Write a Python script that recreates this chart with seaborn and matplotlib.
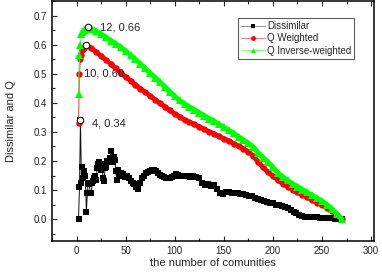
import matplotlib
matplotlib.use('Agg')
import matplotlib.pyplot as plt
import seaborn as sns
from matplotlib.ticker import MultipleLocator

# Dissimilar series (number of communities -> value)
dis_x = [2, 3, 4, 5, 6, 7, 8, 9, 10, 11, 12, 13, 14, 15, 16, 17, 18, 19, 20,
         21, 22, 23, 24, 25, 26, 27, 28, 29, 30, 31, 32, 33, 34, 35, 36, 37, 38,
         39, 40, 41, 42, 43, 44, 45, 47, 49, 51, 53, 55, 57, 59, 61, 63, 65, 67,
         69, 71, 73, 75, 77, 79, 81, 83, 85, 87, 89, 91, 93, 95, 97, 99, 101, 103,
         105, 107, 110, 113, 116, 119, 122, 125, 128, 131, 134, 137, 140, 143, 146,
         149, 152, 155, 158, 161, 164, 167, 170, 173, 176, 179, 182, 185, 188, 191,
         194, 197, 200, 203, 206, 209, 212, 215, 218, 221, 224, 227, 230, 233, 236,
         239, 242, 245, 248, 251, 254, 257, 260, 263, 266, 270]
dis_y = [0.0, 0.11, 0.34, 0.125, 0.18, 0.14, 0.165, 0.15, 0.025, 0.09, 0.125, 0.12,
         0.09, 0.09, 0.125, 0.13, 0.14, 0.15, 0.135, 0.175, 0.19, 0.195, 0.18, 0.17,
         0.19, 0.14, 0.13, 0.175, 0.18, 0.2, 0.195, 0.2, 0.21, 0.235, 0.2, 0.195,
         0.215, 0.205, 0.165, 0.135, 0.17, 0.155, 0.15, 0.16, 0.155, 0.145, 0.15,
         0.14, 0.13, 0.125, 0.12, 0.11, 0.105, 0.125, 0.14, 0.15, 0.16, 0.162, 0.165,
         0.168, 0.17, 0.165, 0.158, 0.152, 0.148, 0.145, 0.14, 0.143, 0.14, 0.145,
         0.15, 0.155, 0.152, 0.15, 0.148, 0.15, 0.148, 0.146, 0.148, 0.145, 0.14,
         0.125, 0.118, 0.12, 0.115, 0.118, 0.105, 0.09, 0.085, 0.095, 0.093, 0.09,
         0.09, 0.089, 0.088, 0.085, 0.082, 0.08, 0.078, 0.072, 0.068, 0.066, 0.062,
         0.058, 0.056, 0.054, 0.05, 0.048, 0.045, 0.043, 0.04, 0.032, 0.025, 0.02,
         0.016, 0.012, 0.009, 0.008, 0.007, 0.006, 0.006, 0.005, 0.005, 0.004, 0.004,
         0.003, 0.002, 0.001, 0.0]

# Q Weighted
qw_x = [2, 3, 4, 5, 6, 7, 8, 9, 10, 15, 20, 25, 30, 35, 40, 45, 50, 55, 60, 65,
        70, 75, 80, 85, 90, 95, 100, 105, 110, 115, 120, 125, 130, 135, 140, 145,
        150, 155, 160, 165, 170, 175, 180, 185, 190, 195, 200, 205, 210, 215, 220,
        225, 230, 235, 240, 245, 250, 255, 260, 265, 270]
qw_y = [0.33, 0.50, 0.55, 0.565, 0.58, 0.585, 0.59, 0.595, 0.600, 0.588, 0.575,
        0.561, 0.547, 0.533, 0.518, 0.503, 0.489, 0.476, 0.462, 0.449, 0.436, 0.424,
        0.411, 0.399, 0.386, 0.374, 0.362, 0.352, 0.342, 0.334, 0.326, 0.318, 0.309,
        0.301, 0.293, 0.285, 0.277, 0.269, 0.260, 0.251, 0.242, 0.232, 0.218, 0.196,
        0.178, 0.162, 0.148, 0.135, 0.122, 0.112, 0.102, 0.093, 0.084, 0.075, 0.066,
        0.057, 0.048, 0.039, 0.028, 0.015, 0.0]

# Q Inverse-weighted
qi_x = [2, 3, 4, 5, 6, 7, 8, 9, 10, 11, 12, 15, 20, 25, 30, 35, 40, 45, 50, 55,
        60, 65, 70, 75, 80, 85, 90, 95, 100, 105, 110, 115, 120, 125, 130, 135,
        140, 145, 150, 155, 160, 165, 170, 175, 180, 185, 190, 195, 200, 205, 210,
        215, 220, 225, 230, 235, 240, 245, 250, 255, 260, 265, 270]
qi_y = [0.43, 0.565, 0.60, 0.635, 0.645, 0.648, 0.65, 0.652, 0.655, 0.658, 0.660,
        0.655, 0.646, 0.636, 0.625, 0.614, 0.603, 0.591, 0.578, 0.564, 0.549, 0.534,
        0.518, 0.502, 0.487, 0.471, 0.455, 0.438, 0.422, 0.408, 0.396, 0.386, 0.376,
        0.366, 0.356, 0.346, 0.337, 0.326, 0.316, 0.306, 0.295, 0.283, 0.272, 0.261,
        0.248, 0.228, 0.212, 0.196, 0.178, 0.160, 0.145, 0.133, 0.122, 0.112, 0.102,
        0.092, 0.082, 0.072, 0.062, 0.050, 0.036, 0.019, 0.0]

# highlighted points
peak_x = [4, 10, 12]
peak_y = [0.34, 0.60, 0.66]
peak_labels = ["4, 0.34", "10, 0.60", "12, 0.66"]
peak_offsets = [(8.5, -2), (-2, -20.5), (8.5, 0)]

sns.set_style("ticks")
plt.rcParams['font.family'] = ['Liberation Sans', 'DejaVu Sans']

fig = plt.figure(figsize=(3.82, 2.72), dpi=100)
ax = fig.add_axes([52 / 382, 1 - 241 / 272, 322 / 382, 240 / 272])

# dense tail of the Q curves drawn as a band under the markers
iw = qw_x.index(10)
ii = qi_x.index(12)
ax.plot(qw_x[iw:], qw_y[iw:], color="#ff0000", linewidth=3.4,
        solid_capstyle="round", zorder=1.5)
ax.plot(qi_x[ii:], qi_y[ii:], color="#00ff00", linewidth=3.6,
        solid_capstyle="round", zorder=2.5)

sns.lineplot(x=dis_x, y=dis_y, ax=ax, color="#111111", linewidth=0.7,
             marker="s", markersize=4.0, markeredgewidth=0, markerfacecolor="#000000",
             label="Dissimilar", estimator=None, sort=False, zorder=1)
sns.lineplot(x=qw_x, y=qw_y, ax=ax, color="#ff3030", linewidth=0.7,
             marker="o", markersize=4.6, markeredgewidth=0, markerfacecolor="#ff0000",
             label="Q Weighted", estimator=None, sort=False, zorder=2)
sns.lineplot(x=qi_x, y=qi_y, ax=ax, color="#30ff30", linewidth=0.7,
             marker="^", markersize=5.4, markeredgewidth=0, markerfacecolor="#00ff00",
             label="Q Inverse-weighted", estimator=None, sort=False, zorder=3)

ax.scatter(peak_x, peak_y, s=22, facecolor="white", edgecolor="black",
           linewidth=0.7, zorder=5)
for px, py, lab, off in zip(peak_x, peak_y, peak_labels, peak_offsets):
    ax.annotate(lab, (px, py), xytext=off, textcoords="offset points",
                ha="left", va="center", fontsize=8)

ax.set_xlim(-25, 303)
ax.set_ylim(-0.075, 0.75)
ax.xaxis.set_major_locator(MultipleLocator(50))
ax.xaxis.set_minor_locator(MultipleLocator(25))
ax.yaxis.set_major_locator(MultipleLocator(0.1))
ax.yaxis.set_minor_locator(MultipleLocator(0.05))
ax.set_yticks([0.0, 0.1, 0.2, 0.3, 0.4, 0.5, 0.6, 0.7])
ax.set_yticklabels(["0.0", "0.1", "0.2", "0.3", "0.4", "0.5", "0.6", "0.7"])

ax.tick_params(which="both", direction="in", top=True, right=False,
               labelsize=7, width=0.8, pad=3.5)
ax.tick_params(which="major", length=3.6)
ax.tick_params(which="minor", length=2.0)
for sp in ax.spines.values():
    sp.set_visible(True)
    sp.set_linewidth(1.1)
    sp.set_color("black")

ax.set_xlabel("the number of comunities", fontsize=8)
ax.set_ylabel("Dissimilar and Q", fontsize=8)
ax.xaxis.set_label_coords(0.5, -0.072)
ax.yaxis.set_label_coords(-0.112, 0.5)

leg = ax.legend(loc="upper left", bbox_to_anchor=(0.578, 0.929), fontsize=7,
                frameon=True, fancybox=False, edgecolor="#333333",
                handlelength=2.5, handletextpad=0.2, labelspacing=0.25,
                borderpad=0.3, borderaxespad=0)
leg.get_frame().set_linewidth(0.8)
for h, c in zip(leg.legend_handles, ["#999999", "#ff8080", "#80ff80"]):
    h.set_markersize(3.5)
    h.set_linewidth(0.8)
    h.set_color(c)
for h, c in zip(leg.legend_handles, ["#000000", "#ff0000", "#00ff00"]):
    h.set_markerfacecolor(c)
    h.set_markeredgecolor(c)

fig.savefig("out.png", dpi=100)
